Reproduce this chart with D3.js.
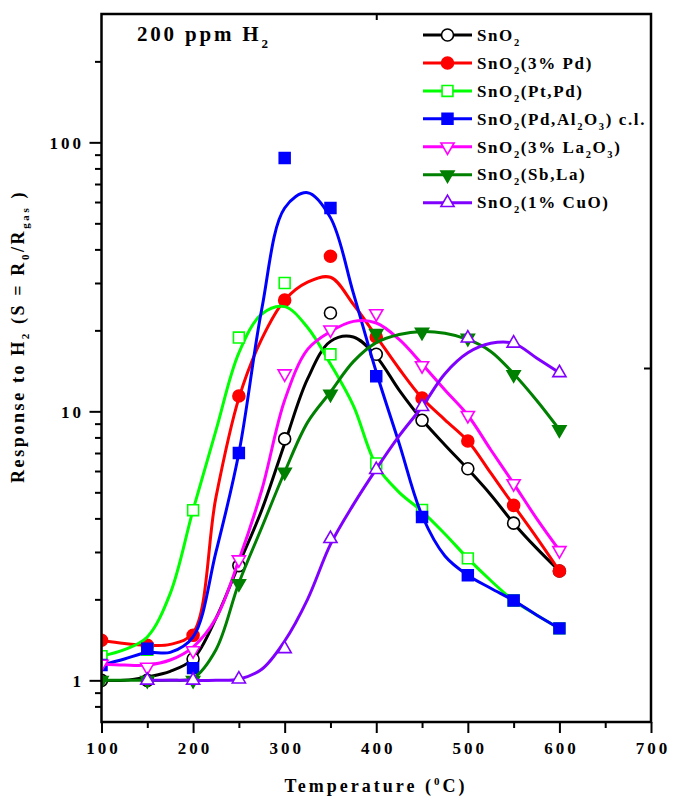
<!DOCTYPE html>
<html><head><meta charset="utf-8">
<script src="https://cdn.jsdelivr.net/npm/d3@7"></script>
<style>
html,body{margin:0;padding:0;background:#fff;}
svg text{font-family:"Liberation Serif","Times New Roman",serif;font-weight:bold;fill:#000;}
</style></head><body>
<svg id="chart" width="674" height="809"></svg>
<script>
// ---------- data ----------
const pointT = [100,150,200,250,300,350,400,450,500,550,600];
const sno2Pts = [1.0,1.0,1.2,2.67,7.9,23.2,16.3,9.26,6.12,3.84,2.55];
const pdPts   = [1.41,1.35,1.47,11.4,25.9,37.7,18.9,11.2,7.76,4.47,2.55];
const ptpdPts = [1.23,1.3,4.29,18.8,30,16.3,6.4,4.3,2.84,1.98,1.56];
const alPts   = [1.14,1.31,1.11,7.0,87.5,57,13.5,4.05,2.46,1.98,1.56];
const laPts   = [1.15,1.12,1.29,2.81,13.8,20.1,23.1,14.8,9.67,5.39,3.04];
const sbPts   = [1.0,1.0,1.0,2.29,5.95,11.6,19.5,19.7,18.7,13.7,8.55];
const cuPts   = [null,1.0,1.0,1.01,1.31,3.36,6.07,10.4,18.7,17.9,13.9];

// fitted curves
const fitT = [100,125,150,175,200,225,250,275,300,325,350,375,400,425,450,475,500,525,550,575,600];
const sno2Fit = [1.0,1.0,1.03,1.08,1.2,1.7,2.7,4.3,7.6,13.2,18.2,18.9,16,12,9.3,7.5,6.1,4.9,3.84,3.1,2.55];
const pdFit   = [1.41,1.37,1.35,1.36,1.5,4.8,11.2,18.6,25.9,30.2,31.5,25,19,14.4,11.2,9.3,7.76,5.9,4.47,3.4,2.55];
const ptpdFit = [1.23,1.3,1.45,2.1,4.3,8.5,16.5,23,24.5,20.5,15,10.5,6.3,5.0,4.25,3.5,2.84,2.35,1.98,1.75,1.56];
const alFit   = [1.14,1.2,1.27,1.27,1.45,3.0,7.0,24,57,65,52.5,27.5,14,7.6,4.1,2.9,2.46,2.2,1.98,1.75,1.56];
const laFit   = [1.15,1.14,1.14,1.19,1.33,1.7,2.8,5.1,11,17,19.8,21.6,21.3,18.5,15,12,9.67,7.2,5.39,4.0,3.04];
const sbFit   = [1.0,1.0,1.0,1.0,1.02,1.3,2.3,3.7,5.95,9.1,11.8,15.3,18,19.3,19.8,19.5,18.5,16.7,13.8,11,8.55];
const cuFit   = [null,null,1.0,1.0,1.0,1.0,1.01,1.1,1.4,2.0,3.2,4.5,6.1,8.1,10.4,13.8,16.5,17.9,17.9,15.8,13.9];

const seriesNames = ["SnO_2","SnO_2(3% Pd)","SnO_2(Pt,Pd)","SnO_2(Pd,Al_2O_3) c.l.","SnO_2(3% La_2O_3)","SnO_2(Sb,La)","SnO_2(1% CuO)"];
const xTicks = [100,200,300,400,500,600,700];
const xMinor = [150,250,350,450,550,650];
const yTicks = [1,10,100];
const yMinor = [0.8,0.9,2,3,4,5,6,7,8,9,20,30,40,50,60,70,80,90,200];

// ---------- styles ----------
const colors = ["#000000","#ff0000","#00ff00","#0000ff","#ff00ff","#008000","#8000ff"];
const symbols = ["circle","circle","square","square","triDown","triDown","triUp"];
const filled = [false,true,false,true,false,true,false];
const ptsArr = [sno2Pts,pdPts,ptpdPts,alPts,laPts,sbPts,cuPts];
const fitArr = [sno2Fit,pdFit,ptpdFit,alFit,laFit,sbFit,cuFit];
const series = seriesNames.map((n,i)=>({name:n,color:colors[i],sym:symbols[i],filled:filled[i],
  pts:pointT.map((t,j)=>({t,v:ptsArr[i][j]})).filter(d=>d.v!=null),
  fit:fitT.map((t,j)=>({t,v:fitArr[i][j]})).filter(d=>d.v!=null)}));

const svg = d3.select("#chart");
const L=101.5,R=651,T=14,B=722;
const x = d3.scaleLinear().domain([100,700]).range([L,R]);
const y = d3.scaleLog().domain([0.7,300]).range([B,T]);

function symPath(s){
  if(s==="circle") return d3.symbol(d3.symbolCircle,113)();
  if(s==="square") return d3.symbol(d3.symbolSquare,118)();
  return d3.symbol(d3.symbolTriangle,75)();
}
function drawMarker(g,s,color,fill,cx,cy){
  return g.append("path").attr("d",symPath(s))
    .attr("transform",`translate(${cx},${cy})`+(s==="triDown"?" rotate(180)":""))
    .attr("fill",fill?color:"#fff").attr("stroke",color).attr("stroke-width",1.6);
}
// rich text: _x / _{xx} subscript, ^x / ^{xx} superscript
function rich(textSel, str, size, subSize, shift){
  const re = /_\{([^}]*)\}|_(\w)|\^\{([^}]*)\}|\^(\w)|([^_^]+)/g;
  let m, state=0;
  while((m=re.exec(str))){
    let txt, mode;
    if(m[1]!=null||m[2]!=null){txt=m[1]??m[2];mode=1;}
    else if(m[3]!=null||m[4]!=null){txt=m[3]??m[4];mode=-1;}
    else {txt=m[5];mode=0;}
    const target = mode*shift;
    textSel.append("tspan").text(txt).attr("dy",target-state)
      .style("font-size",(mode===0?size:subSize)+"px");
    state=target;
  }
}

// clip
svg.append("clipPath").attr("id","clip").append("rect")
  .attr("x",L).attr("y",T).attr("width",R-L).attr("height",B-T);

const plot = svg.append("g").attr("clip-path","url(#clip)");
const line = d3.line().x(d=>x(d.t)).y(d=>y(d.v)).curve(d3.curveCatmullRom.alpha(0.5));
series.forEach(s=>{
  const g = plot.append("g");
  g.append("path").datum(s.fit).attr("d",line).attr("fill","none")
    .attr("stroke",s.color).attr("stroke-width",3).attr("stroke-linejoin","round");
  s.pts.forEach(d=>drawMarker(g,s.sym,s.color,s.filled,x(d.t),y(d.v)));
});

// axes
const axG = svg.append("g");
function styleAxis(g){
  g.select(".domain").remove();
  g.selectAll(".tick line").attr("stroke","#000").attr("stroke-width",2);
}
const bAx = axG.append("g").attr("transform",`translate(0,${B})`)
  .call(d3.axisBottom(x).tickValues(xTicks).tickSize(11).tickFormat(d3.format("d")));
styleAxis(bAx);
bAx.selectAll("text").attr("y",32).attr("dy",0).attr("dx",1.5)
  .style("font-size","17px").style("letter-spacing","3px");
const bMin = axG.append("g").attr("transform",`translate(0,${B})`)
  .call(d3.axisBottom(x).tickValues(xMinor).tickSize(6).tickFormat(""));
styleAxis(bMin);
const lAx = axG.append("g").attr("transform",`translate(${L},0)`)
  .call(d3.axisLeft(y).tickValues(yTicks).tickSize(12).tickFormat(d3.format("d")));
styleAxis(lAx);
lAx.selectAll("text").attr("x",-17.5).attr("dy","0.34em")
  .style("font-size","17px").style("letter-spacing","3px");
const lMin = axG.append("g").attr("transform",`translate(${L},0)`)
  .call(d3.axisLeft(y).tickValues(yMinor).tickSize(6.5).tickFormat(""));
styleAxis(lMin);
// top & right (single mid ticks)
const xTop = d3.scaleLinear().domain([0,1]).range([L,R]);
const yRight = d3.scaleLinear().domain([0,1]).range([B,T]);
const tAx = axG.append("g").attr("transform",`translate(0,${T})`)
  .call(d3.axisBottom(xTop).tickValues([0.5]).tickSize(6).tickFormat(""));
styleAxis(tAx);
const rAx = axG.append("g").attr("transform",`translate(${R},0)`)
  .call(d3.axisLeft(yRight).tickValues([0.5]).tickSize(7).tickFormat(""));
styleAxis(rAx);
axG.append("rect").attr("x",L).attr("y",T).attr("width",R-L).attr("height",B-T)
  .attr("fill","none").attr("stroke","#000").attr("stroke-width",2.5);

// title
const title = svg.append("text").attr("x",137).attr("y",41)
  .style("font-size","21px").style("letter-spacing","2.8px");
rich(title,"200 ppm H_2",21,13,7);

// legend
const lg = svg.append("g");
series.forEach((s,i)=>{
  const cy = 35 + i*27.95;
  lg.append("line").attr("x1",423).attr("x2",472).attr("y1",cy).attr("y2",cy)
    .attr("stroke",s.color).attr("stroke-width",3);
  drawMarker(lg,s.sym,s.color,s.filled,447.5,cy);
  const t = lg.append("text").attr("x",477).attr("y",cy+5.7)
    .style("font-size","17px").style("letter-spacing","1.6px");
  rich(t,s.name,17,10.5,5);
});

// axis titles
const xt = svg.append("text").attr("x",376).attr("y",792).attr("text-anchor","middle")
  .style("font-size","18px").style("letter-spacing","3px");
rich(xt,"Temperature (^0C)",18,11,7);
const yt = svg.append("text").attr("transform","translate(24,483) rotate(-90)")
  .style("font-size","18px").style("letter-spacing","2.6px");
rich(yt,"Response to H_2 (S = R_0/R_{gas} )",18,11,5);
</script>
</body></html>
